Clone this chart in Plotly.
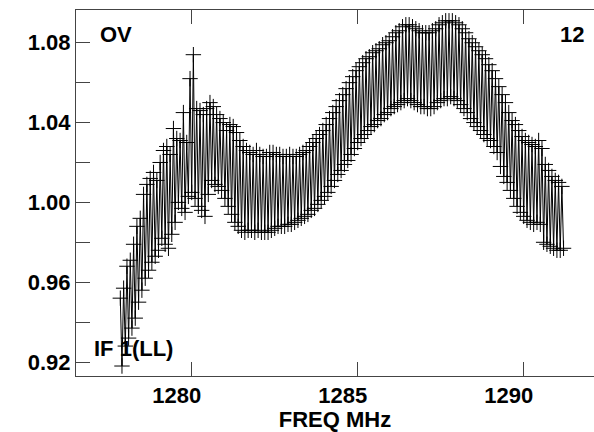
import numpy as np
import plotly.graph_objects as go

# channel grid of the spectrum (MHz)
chan0_mhz = 1277.85
chan_width_mhz = 0.1

# upper branch of the zig-zag (one value per channel)
upper = [
    0.952, 0.957, 0.968, 0.971, 0.979, 0.988, 0.992, 1.004, 1.009, 1.012,
    1.015, 1.011, 1.020, 1.026, 1.028, 1.024, 1.037, 1.032, 1.031, 1.045,
    1.030, 1.062, 1.074, 1.047, 1.046, 1.044, 1.047, 1.050, 1.048, 1.044,
    1.042, 1.040, 1.036, 1.039, 1.038, 1.035, 1.031, 1.028, 1.026, 1.025,
    1.024, 1.026, 1.024, 1.023, 1.023, 1.025, 1.025, 1.024, 1.024, 1.023,
    1.023, 1.024, 1.023, 1.023, 1.024, 1.025, 1.026, 1.028, 1.030, 1.032,
    1.034, 1.036, 1.039, 1.042, 1.045, 1.048, 1.051, 1.054, 1.057, 1.060,
    1.063, 1.066, 1.068, 1.070, 1.072, 1.073, 1.075, 1.076, 1.077, 1.079,
    1.080, 1.081, 1.083, 1.085, 1.086, 1.088, 1.089, 1.089, 1.088, 1.087,
    1.086, 1.085, 1.085, 1.085, 1.086, 1.087, 1.089, 1.090, 1.091, 1.091,
    1.091, 1.090, 1.089, 1.087, 1.085, 1.082, 1.080, 1.078, 1.076, 1.074,
    1.072, 1.069, 1.066, 1.062, 1.058, 1.054, 1.050, 1.045, 1.041, 1.039,
    1.036, 1.033, 1.031, 1.030, 1.029, 1.028, 1.031, 1.027, 1.019, 1.016,
    1.013, 1.011, 1.010, 1.008,
]

# lower branch, half a channel later
lower = [
    0.918, 0.928, 0.932, 0.937, 0.942, 0.950, 0.956, 0.962, 0.966, 0.970,
    0.973, 0.976, 0.982, 0.979, 0.977, 0.984, 0.990, 1.000, 0.997, 0.995,
    1.003, 1.005, 1.002, 0.998, 0.996, 0.993, 1.004, 1.011, 1.009, 1.008,
    1.006, 1.002, 0.998, 0.994, 0.990, 0.988, 0.986, 0.985, 0.986, 0.986,
    0.985, 0.986, 0.985, 0.985, 0.985, 0.986, 0.987, 0.988, 0.988, 0.988,
    0.989, 0.989, 0.990, 0.991, 0.992, 0.993, 0.994, 0.996, 0.997, 0.999,
    1.001, 1.003, 1.005, 1.008, 1.011, 1.014, 1.016, 1.019, 1.021, 1.024,
    1.027, 1.030, 1.032, 1.034, 1.036, 1.038, 1.039, 1.041, 1.042, 1.044,
    1.045, 1.047, 1.048, 1.049, 1.050, 1.051, 1.052, 1.051, 1.050, 1.049,
    1.048, 1.048, 1.047, 1.047, 1.048, 1.050, 1.051, 1.052, 1.052, 1.053,
    1.052, 1.051, 1.049, 1.047, 1.045, 1.042, 1.040, 1.038, 1.036, 1.034,
    1.032, 1.031, 1.028, 1.025, 1.018, 1.013, 1.010, 1.006, 1.002, 0.998,
    0.995, 0.993, 0.991, 0.990, 0.989, 0.990, 0.989, 0.980, 0.979, 0.978,
    0.977, 0.976, 0.976, 0.977,
]

y_tickvals = [0.92, 0.94, 0.96, 0.98, 1.00, 1.02, 1.04, 1.06, 1.08]
y_ticktext = ["0.92", "", "0.96", "", "1.00", "", "1.04", "", "1.08"]
x_tickvals = [1280, 1285, 1290]

# interleave the two branches into one zig-zag trace
freq = chan0_mhz + chan_width_mhz * np.arange(len(upper))
xs, ys = [], []
for f, hi, lo in zip(freq, upper, lower):
    xs += [f, f + chan_width_mhz / 2]
    ys += [hi, lo]

fig = go.Figure()
fig.add_trace(go.Scatter(
    x=xs, y=ys,
    mode='lines+markers',
    line=dict(color='black', width=1),
    marker=dict(symbol='cross-thin', size=11,
                line=dict(color='black', width=1)),
    showlegend=False,
))

font = dict(family='Liberation Sans, Arial, sans-serif', size=22,
            color='black', weight='bold')
axcol = '#444'

fig.update_layout(
    width=594, height=432,
    margin=dict(l=76, r=0, t=10, b=53),
    paper_bgcolor='white', plot_bgcolor='white',
    font=font,
    xaxis=dict(
        range=[1276.515, 1292.117],
        tickvals=x_tickvals, ticks='inside', ticklen=14, tickcolor=axcol,
        showline=True, linecolor=axcol, linewidth=1, mirror='ticks',
        showgrid=False, zeroline=False,
        ticklabelshift=-15,
        title=dict(text='FREQ MHz', font=font, standoff=8),
    ),
    yaxis=dict(
        range=[0.913, 1.0964],
        tickvals=y_tickvals, ticktext=y_ticktext,
        ticks='inside', ticklen=14, tickcolor=axcol,
        showline=True, linecolor=axcol, linewidth=1,
        showgrid=False, zeroline=False,
    ),
    annotations=[
        dict(text='OV', x=0.0425, y=0.932, xref='paper', yref='paper',
             xanchor='left', yanchor='middle', showarrow=False, font=font),
        dict(text='12', x=0.9846, y=0.932, xref='paper', yref='paper',
             xanchor='right', yanchor='middle', showarrow=False, font=font),
        dict(text='IF 1(LL)', x=0.0309, y=0.0759, xref='paper', yref='paper',
             xanchor='left', yanchor='middle', showarrow=False, font=font),
    ],
)

# page without body margin so the figure sits at the window's corner
fig.write_html("out.html",
               config={'displayModeBar': False},
               post_script="document.body.style.margin='0';"
                           "document.body.style.overflow='hidden';")
